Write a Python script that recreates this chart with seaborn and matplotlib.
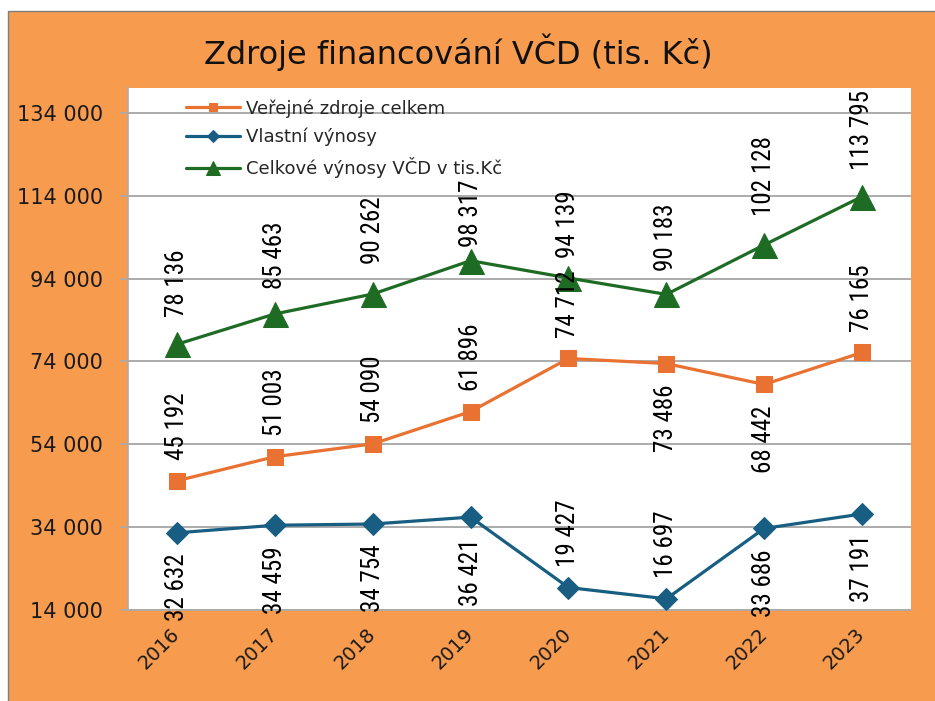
import numpy as np
import pandas as pd
import seaborn as sns
import matplotlib.pyplot as plt
from matplotlib import font_manager
from matplotlib.patches import Rectangle

sns.set_style('white')
plt.rcParams['font.family'] = ['DejaVu Sans']

# data
years = ['2016', '2017', '2018', '2019', '2020', '2021', '2022', '2023']
verejne = [45192, 51003, 54090, 61896, 74712, 73486, 68442, 76165]
vlastni = [32632, 34459, 34754, 36421, 19427, 16697, 33686, 37191]
celkove = [78136, 85463, 90262, 98317, 94139, 90183, 102128, 113795]
series_names = ['Veřejné zdroje celkem', 'Vlastní výnosy', 'Celkové výnosy VČD v tis.Kč']
title = 'Zdroje financování VČD (tis. Kč)'

# where the value labels sit (a = above, b = below) and how far from the point (pt)
place_verejne = ['a', 'a', 'a', 'a', 'a', 'b', 'b', 'a']
place_vlastni = ['b', 'b', 'b', 'b', 'a', 'a', 'b', 'b']
place_celkove = ['a'] * 8
gap_verejne = [15] * 8
gap_vlastni = [15] * 8
gap_celkove = [19.5, 18, 21.5, 10, 14.5, 16.5, 21, 19]

orange_bg = '#F79B4E'
grid_gray = '#ABABAB'

# pick a narrow font for the rotated value labels if one is installed
names = {f.name for f in font_manager.fontManager.ttflist}
narrow = next((n for n in ['Liberation Sans Narrow', 'Roboto Condensed', 'Open Sans Condensed']
               if n in names), None)
if narrow:
    lbl_font = dict(family=narrow, fontsize=18)
else:
    lbl_font = dict(family='DejaVu Sans', fontstretch='condensed', fontsize=15)

fig = plt.figure(figsize=(9.35, 7.01), dpi=100, facecolor='white')
bg = Rectangle((8 / 935, -0.01), 1.0, 1 - 11 / 701 + 0.01, transform=fig.transFigure,
               facecolor=orange_bg, edgecolor='#7F7F7F', lw=1.0, zorder=-5)
fig.add_artist(bg)

ax = fig.add_axes([128 / 935, 1 - 610 / 701, (911 - 128) / 935, (610 - 88) / 701])
ax.set_zorder(1)
ax.set_facecolor('white')

styles = [
    (verejne, '#E97132', 's', 11, place_verejne, gap_verejne),
    (vlastni, '#175E82', 'D', 11, place_vlastni, gap_vlastni),
    (celkove, '#1E6B24', '^', 18, place_celkove, gap_celkove),
]

for (vals, col, mk, ms, places, gaps), name in zip(styles, series_names):
    sns.lineplot(x=years, y=vals, ax=ax, color=col, marker=mk, markersize=ms,
                 markeredgecolor=col, linewidth=2.3, label=name, zorder=3)
    for i, (v, p, g) in enumerate(zip(vals, places, gaps)):
        txt = f'{v:,}'.replace(',', ' ')
        dy = g if p == 'a' else -g
        ax.annotate(txt, (i, v), xytext=(0, dy), textcoords='offset points',
                    rotation=90, ha='center', va='bottom' if p == 'a' else 'top',
                    color='black', zorder=4, **lbl_font)

ax.set_xlim(-0.5, 7.5)
ax.set_ylim(14000, 140000)
yt = np.arange(14000, 134001, 20000)
ax.set_yticks(yt)
ax.set_yticklabels([f'{t:,}'.replace(',', ' ') for t in yt], fontsize=15, color='#1a1a1a')
ax.yaxis.grid(True, color=grid_gray, lw=1.4)
ax.xaxis.grid(False)
ax.set_axisbelow(True)

ax.set_xticks(range(len(years)))
ax.set_xticklabels(years, rotation=45, ha='right', va='center', rotation_mode='anchor',
                   fontsize=14, color='#1a1a1a')
ax.set_xticks(np.arange(-0.5, len(years)), minor=True)
ax.tick_params(axis='x', which='major', length=0, pad=15)
ax.tick_params(axis='x', which='minor', length=6, color=grid_gray, width=1.2, direction='out')
ax.tick_params(axis='y', length=6, color=grid_gray, width=1.2, direction='out', left=True, pad=12)
ax.set_xlabel('')
ax.set_ylabel('')

for s in ['top', 'right']:
    ax.spines[s].set_visible(False)
for s in ['left', 'bottom']:
    ax.spines[s].set_color(grid_gray)
    ax.spines[s].set_linewidth(1.2)

leg = ax.legend(loc='upper left', bbox_to_anchor=(177 / 935, 1 - 90 / 701), bbox_transform=fig.transFigure,
                frameon=False, fontsize=13, handlelength=3.0, handletextpad=0.3,
                labelspacing=0.58, borderpad=0, markerscale=0.55)

fig.text(0.49, 0.926, title, ha='center', va='center', fontsize=23, color='#111111')

fig.savefig('out.png', dpi=100, facecolor=fig.get_facecolor())
